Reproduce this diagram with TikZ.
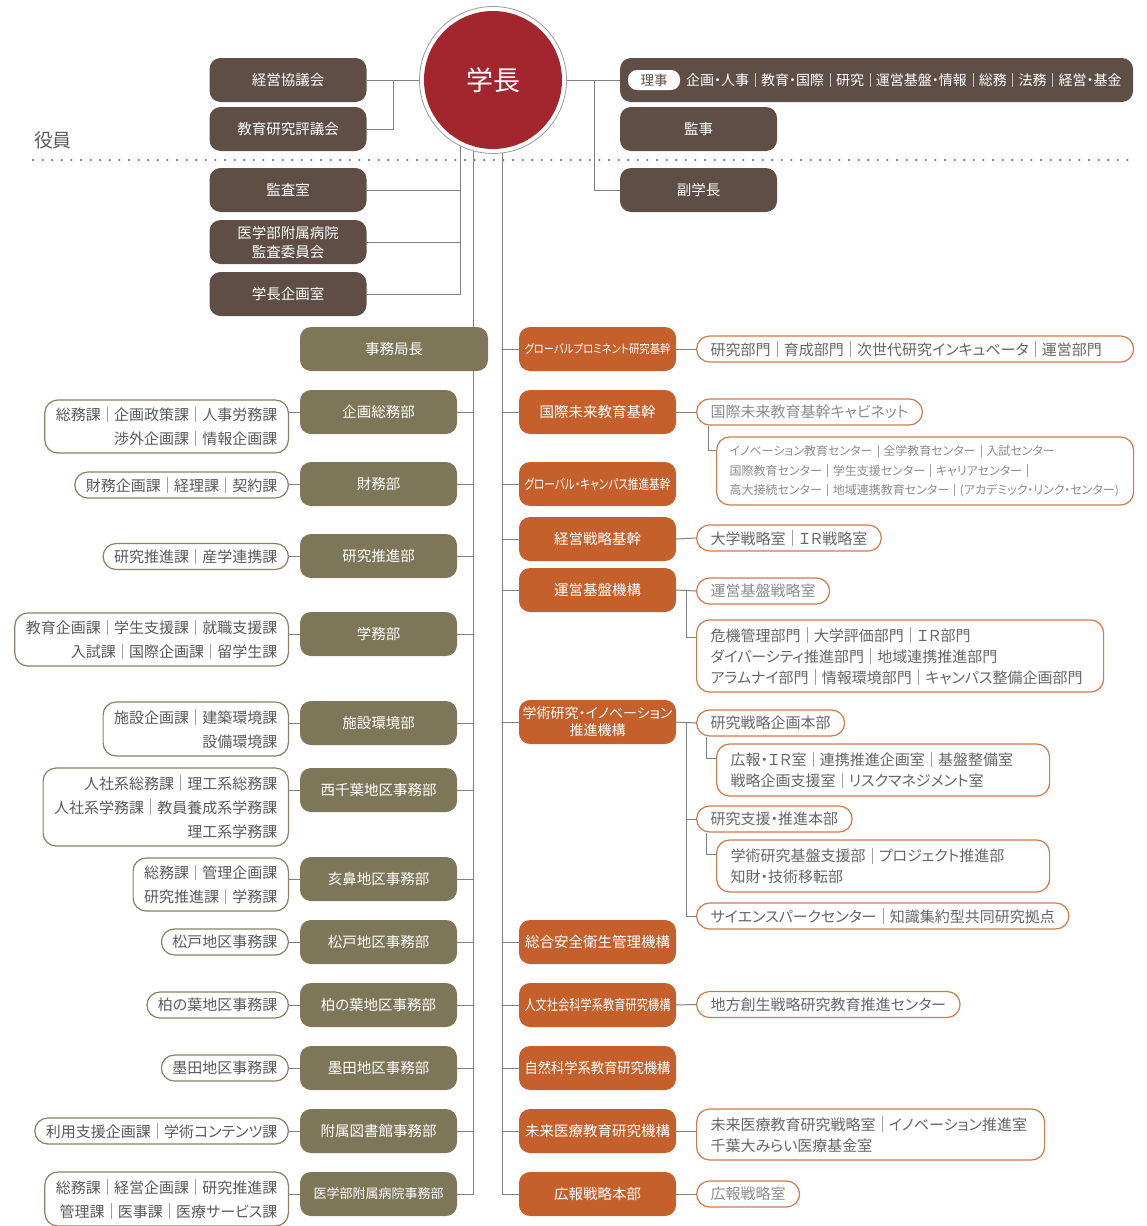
\documentclass[tikz,border=0pt]{standalone}
\usepackage{fontspec}
\setmainfont{Noto Sans CJK JP}[RawFeature={+palt}]
\usepackage{graphicx}
\usepackage{xcolor}
\usepackage{tikz}
\definecolor{topbrown}{HTML}{5E4E45}
\definecolor{presred}{HTML}{A3262F}
\definecolor{kcol}{HTML}{7E7658}
\definecolor{rcol}{HTML}{C5602C}
\definecolor{kbd}{HTML}{8A8164}
\definecolor{rbd}{HTML}{D2794A}
\definecolor{lgray}{HTML}{5A5A5A}
\definecolor{rgray}{HTML}{666666}
\definecolor{palegray}{HTML}{8C8C8C}
\definecolor{linegray}{HTML}{808080}
\definecolor{ringgray}{HTML}{9A9A9A}
\definecolor{sepgray}{HTML}{A0A0A0}
\newcommand{\bxf}{\fontsize{14.5}{19}\selectfont}
\newcommand{\lbf}{\fontsize{15}{24}\selectfont}
\newcommand{\rbf}{\fontsize{15}{21}\selectfont}
\newcommand{\smf}{\fontsize{12}{19.5}\selectfont}
\newcommand{\bsep}{\hspace{0.42em}{\color{sepgray}\rule[-0.12em]{0.7pt}{1.05em}}\hspace{0.42em}}
\newcommand{\wsep}{\hspace{0.4em}{\color{white!65!topbrown}\rule[-0.12em]{0.7pt}{1.05em}}\hspace{0.4em}}
\newcommand{\squeeze}[1]{\resizebox{146pt}{\height}{#1}}
\pgfdeclarelayer{back}
\pgfsetlayers{back,main}
\tikzset{
  conn/.style={draw=linegray, line width=1pt},
  topbox/.style={rounded corners=11pt, fill=topbrown, text=white, minimum width=157pt,
    minimum height=44pt, inner sep=2pt, font=\bxf, align=center},
  kbox/.style={topbox, fill=kcol},
  obox/.style={topbox, fill=rcol},
  ring/.style={circle, draw=ringgray, line width=0.8pt, fill=white, minimum size=147pt, inner sep=0pt},
  pres/.style={circle, fill=presred, minimum size=138pt, inner sep=0pt, text=white,
    font=\fontsize{27}{27}\selectfont},
  tag/.style={rounded corners=9pt, fill=white, text=topbrown, minimum width=52pt,
    minimum height=20pt, inner sep=0pt, font=\fontsize{13.5}{14}\selectfont},
  lbox/.style={draw=kbd, line width=1.2pt, rounded corners=13pt, fill=white, text=lgray,
    align=right, inner xsep=11pt, inner ysep=4pt, minimum height=26pt, font=\lbf, anchor=east},
  rbox/.style={draw=rbd, line width=1.2pt, rounded corners=13pt, fill=white, text=rgray,
    align=left, inner xsep=14pt, inner ysep=4pt, minimum height=26pt, font=\rbf, anchor=west},
  pale/.style={text=palegray},
  labm/.style={text=lgray, font=\fontsize{19}{19}\selectfont},
  dotline/.style={draw=linegray, line width=2.6pt, line cap=round, dash pattern=on 0pt off 9.6pt}
}
\begin{document}
\begin{tikzpicture}[x=1pt,y=-1pt]
  \useasboundingbox (0,0) rectangle (1146,1226);

  % officers row
  \node[labm] (yakuin) at (53,140) {役員};
  \draw[dotline] (33,160) -- (1128,160);

  \node[ring] (presring) at (493,80) {};
  \node[pres] (pres) at (493,80) {学長};

  \node[topbox] (keiei) at (288,80) {経営協議会};
  \node[topbox] (hyogi) at (288,129) {教育研究評議会};
  \node[topbox] (kansashitsu) at (288,190) {監査室};
  \node[topbox] (byoinkansa) at (288,242) {医学部附属病院\\監査委員会};
  \node[topbox] (kikakushitsu) at (288,294) {学長企画室};

  \node[topbox, minimum width=513pt] (riji) at (876.5,80) {};
  \node[tag] (rijitag) at (654,80) {理事};
  \node[anchor=west, text=white, inner sep=0pt, font=\fontsize{14}{15}\selectfont] (rijilist) at (686,80)
    {企画・人事\wsep 教育・国際\wsep 研究\wsep 運営基盤・情報\wsep 総務\wsep 法務\wsep 経営・基金};
  \node[topbox] (kanji) at (698.5,129) {監事};
  \node[topbox] (fuku) at (698.5,190) {副学長};

  \draw[conn] (keiei.east) -- (presring.west);
  \draw[conn] ([xshift=27pt]keiei.east) |- (hyogi.east);
  \draw[conn] (presring.east) -- (riji.west);
  \draw[conn] ([xshift=28pt]presring.east) |- (fuku.west);
  \draw[conn] (presring.244) |- (kikakushitsu.east);
  \foreach \n in {kansashitsu,byoinkansa}
    \draw[conn] (\n.east) -- (\n.east -| presring.244);

  % administration side
  \node[kbox, minimum width=188pt] (jimukyoku) at (394,349) {事務局長};
  \node[kbox] (kikakusomu) at (378.5,412) {企画総務部};
  \node[kbox] (zaimu) at (378.5,484) {財務部};
  \node[kbox] (kenkyusuishin) at (378.5,556) {研究推進部};
  \node[kbox] (gakumu) at (378.5,634) {学務部};
  \node[kbox] (shisetsu) at (378.5,723) {施設環境部};
  \node[kbox] (nishichiba) at (378.5,790) {西千葉地区事務部};
  \node[kbox] (inohana) at (378.5,879) {亥鼻地区事務部};
  \node[kbox] (matsudo) at (378.5,942) {松戸地区事務部};
  \node[kbox] (kashiwanoha) at (378.5,1005) {柏の葉地区事務部};
  \node[kbox] (sumida) at (378.5,1068) {墨田地区事務部};
  \node[kbox] (toshokan) at (378.5,1131) {附属図書館事務部};
  \node[kbox, font=\fontsize{13}{15}\selectfont] (byoinjimu) at (378.5,1194) {医学部附属病院事務部};

  \node[lbox, minimum height=53pt] (kikakusomuL) at (289,426.5) {総務課\bsep 企画政策課\bsep 人事労務課\\渉外企画課\bsep 情報企画課};
  \node[lbox] (zaimuL) at (289,485) {財務企画課\bsep 経理課\bsep 契約課};
  \node[lbox] (kenkyusuishinL) at (289,556.5) {研究推進課\bsep 産学連携課};
  \node[lbox, minimum height=53pt] (gakumuL) at (289,639.5) {教育企画課\bsep 学生支援課\bsep 就職支援課\\入試課\bsep 国際企画課\bsep 留学生課};
  \node[lbox, minimum height=54pt] (shisetsuL) at (289,729) {施設企画課\bsep 建築環境課\\設備環境課};
  \node[lbox, minimum height=78pt] (nishichibaL) at (289,807) {人社系総務課\bsep 理工系総務課\\人社系学務課\bsep 教員養成系学務課\\理工系学務課};
  \node[lbox, minimum height=53pt] (inohanaL) at (289,884.5) {総務課\bsep 管理企画課\\研究推進課\bsep 学務課};
  \node[lbox] (matsudoL) at (289,942) {松戸地区事務課};
  \node[lbox] (kashiwanohaL) at (289,1005) {柏の葉地区事務課};
  \node[lbox] (sumidaL) at (289,1068) {墨田地区事務課};
  \node[lbox] (toshokanL) at (289,1131) {利用支援企画課\bsep 学術コンテンツ課};
  \node[lbox, minimum height=54pt] (byoinjimuL) at (289,1199) {総務課\bsep 経営企画課\bsep 研究推進課\\管理課\bsep 医事課\bsep 医療サービス課};

  \begin{pgfonlayer}{back}
    \draw[conn] (presring.255) |- (byoinjimu.east);
    \foreach \n in {kikakusomu,zaimu,kenkyusuishin,gakumu,shisetsu,nishichiba,inohana,matsudo,kashiwanoha,sumida,toshokan} {
      \draw[conn] (\n.east) -- (\n.east -| presring.255);
    }
  \end{pgfonlayer}
  \foreach \n in {kikakusomu,zaimu,kenkyusuishin,gakumu,shisetsu,nishichiba,inohana,matsudo,kashiwanoha,sumida,toshokan,byoinjimu} {
    \draw[conn] (\n.west) -- (\n.west -| \n L.east);
  }

  % organisations side
  \node[obox] (gp) at (597.5,349) {\squeeze{\fontsize{12}{14}\selectfont グローバルプロミネント研究基幹}};
  \node[obox] (kokusai) at (597.5,412) {国際未来教育基幹};
  \node[obox] (campus) at (597.5,484) {\squeeze{\fontsize{13.5}{15}\selectfont グローバル・キャンパス推進基幹}};
  \node[obox] (senryakukikan) at (597.5,539) {経営戦略基幹};
  \node[obox] (unei) at (597.5,590) {運営基盤機構};
  \node[obox, font=\fontsize{14}{17}\selectfont] (gakujutsu) at (597.5,722) {学術研究・イノベーション\\推進機構};
  \node[obox] (anzen) at (597.5,942) {総合安全衛生管理機構};
  \node[obox] (jinbun) at (597.5,1005) {\squeeze{人文社会科学系教育研究機構}};
  \node[obox] (shizen) at (597.5,1068) {\squeeze{自然科学系教育研究機構}};
  \node[obox] (mirai) at (597.5,1131) {未来医療教育研究機構};
  \node[obox] (koho) at (597.5,1194) {広報戦略本部};

  \node[rbox, text width=409pt] (gpR) at (696,349) {研究部門\bsep 育成部門\bsep 次世代研究インキュベータ\bsep 運営部門};
  \node[rbox, pale] (cabinet) at (696,412) {国際未来教育基幹キャビネット};
  \node[rbox, pale, font=\smf, inner xsep=13pt, text width=391pt, minimum height=68pt] (kokusaiS) at (716,471)
    {イノベーション教育センター\bsep 全学教育センター\bsep 入試センター\\国際教育センター\bsep 学生支援センター\bsep キャリアセンター\bsep\\高大接続センター\bsep 地域連携教育センター\bsep (アカデミック・リンク・センター)};
  \node[rbox] (keieiR) at (696,538) {大学戦略室\bsep ＩＲ戦略室};
  \node[rbox, pale] (uneiA) at (696,591) {運営基盤戦略室};
  \node[rbox, text width=379pt, minimum height=72pt] (uneiB) at (696,656)
    {危機管理部門\bsep 大学評価部門\bsep ＩＲ部門\\ダイバーシティ推進部門\bsep 地域連携推進部門\\アラムナイ部門\bsep 情報環境部門\bsep キャンパス整備企画部門};
  \node[rbox] (senryaku) at (696,723) {研究戦略企画本部};
  \node[rbox, text width=305pt, minimum height=52pt] (senryakuS) at (716,770)
    {広報・ＩＲ室\bsep 連携推進企画室\bsep 基盤整備室\\戦略企画支援室\bsep リスクマネジメント室};
  \node[rbox] (shien) at (696,819) {研究支援・推進本部};
  \node[rbox, text width=305pt, minimum height=52pt] (shienS) at (716,866)
    {学術研究基盤支援部\bsep プロジェクト推進部\\知財・技術移転部};
  \node[rbox] (scipark) at (696,916) {サイエンスパークセンター\bsep 知識集約型共同研究拠点};
  \node[rbox] (jinbunR) at (696,1004.5) {地方創生戦略研究教育推進センター};
  \node[rbox, text width=320pt, minimum height=51pt] (miraiR) at (696,1134.5)
    {未来医療教育研究戦略室\bsep イノベーション推進室\\千葉大みらい医療基金室};
  \node[rbox, pale] (kohoR) at (696,1194) {広報戦略室};

  \draw[conn] (presring.277) |- (koho.west);
  \foreach \n in {gp,kokusai,campus,senryakukikan,unei,gakujutsu,anzen,jinbun,shizen,mirai} {
    \draw[conn] (\n.west) -- (\n.west -| presring.277);
  }
  \draw[conn] (gp.east) -- (gpR.west);
  \draw[conn] (kokusai.east) -- (cabinet.west);
  \draw[conn] ([xshift=12pt]cabinet.south west) |- ([yshift=-14pt]kokusaiS.north west);
  \draw[conn] (senryakukikan.east) -- (keieiR.west);
  \draw[conn] (unei.east) -- (uneiA.west);
  \draw[conn] ([xshift=10pt]unei.east) |- ([yshift=-18pt]uneiB.north west);
  \draw[conn] (gakujutsu.east) -- (senryaku.west);
  \draw[conn] ([xshift=10pt]gakujutsu.east) |- (scipark.west);
  \draw[conn] (shien.west) -- ([xshift=-10pt]shien.west);
  \draw[conn] ([xshift=10pt]senryaku.south west) |- ([yshift=-15pt]senryakuS.north west);
  \draw[conn] ([xshift=10pt]shien.south west) |- ([yshift=-15pt]shienS.north west);
  \draw[conn] (jinbun.east) -- (jinbunR.west);
  \draw[conn] (mirai.east) -- (mirai.east -| miraiR.west);
  \draw[conn] (koho.east) -- (kohoR.west);
\end{tikzpicture}
\end{document}
